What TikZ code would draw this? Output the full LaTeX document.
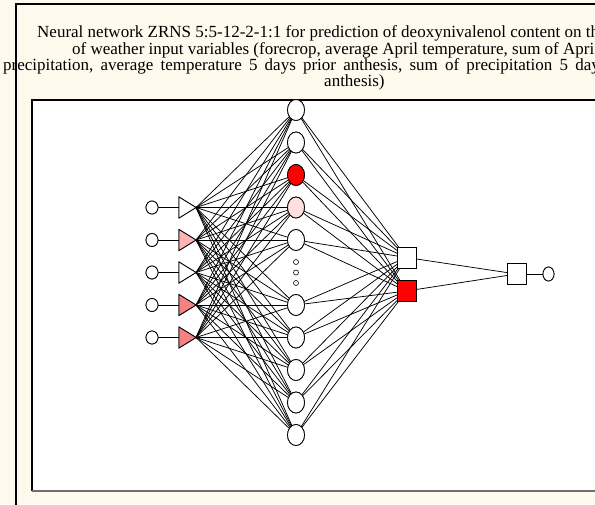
\documentclass[tikz,border=0pt]{standalone}
\usepackage{fontspec}
\setmainfont{Liberation Serif}
\usetikzlibrary{shapes.geometric}
\definecolor{paper}{HTML}{FFF9EE}
\definecolor{pinklight}{HTML}{FFB3B3}
\definecolor{salmon}{HTML}{F58282}
\definecolor{blush}{HTML}{FFE0E0}
\definecolor{boxshade}{HTML}{6E6E6E}
\begin{document}
\begin{tikzpicture}[x=1pt,y=-1pt,
  titletext/.style={anchor=base west,inner sep=0,font=\fontsize{17}{17}\selectfont},
  unit/.style={ellipse,draw,line width=0.8pt,fill=white,inner sep=0,outer sep=0,
    minimum width=17pt,minimum height=21pt},
  inunit/.style={ellipse,draw,line width=0.8pt,fill=white,inner sep=0,outer sep=0,
    minimum width=12pt,minimum height=13pt},
  outunit/.style={ellipse,draw,line width=0.8pt,fill=white,inner sep=0,outer sep=0,
    minimum width=11pt,minimum height=14pt},
  dotunit/.style={circle,draw,line width=0.6pt,fill=white,inner sep=0,outer sep=0,
    minimum size=5pt},
  tri/.style={isosceles triangle,isosceles triangle stretches,draw,line width=0.8pt,
    fill=white,inner sep=0,outer sep=0,minimum height=17pt,minimum width=21pt,anchor=apex},
  sq/.style={rectangle,draw,line width=0.8pt,fill=white,inner sep=0,outer sep=0,
    minimum width=19pt,minimum height=21pt},
  conn/.style={line width=0.75pt,black}]
\useasboundingbox (0,0) rectangle (595,504);
% panel background and frame
\fill[paper] (0,0) rectangle (595,504);
\draw[line width=1.6pt] (16,520) -- (16,4) -- (610,4);
% plot area
\fill[white] (32,100) rectangle (610,491);
\draw[line width=1.4pt] (32,491) -- (32,100) -- (610,100);
\draw[boxshade,line width=1.6pt] (32,491) -- (610,491);
% title
\node[titletext] (t1) at (37,37) {Neural network ZRNS 5:5-12-2-1:1 for prediction of deoxynivalenol content on th};
\node[titletext] (t2) at (72,54) {of weather input variables (forecrop, average April temperature, sum of Apri};
\node[titletext] (t3) at (3,70) {\spaceskip=7.2pt precipitation, average temperature 5 days prior anthesis, sum of precipitation 5 day};
\node[titletext] (t4) at (324,86) {anthesis)};
% input layer
\foreach \i/\y/\c in {1/207.5/white,2/240/pinklight,3/272.5/white,4/305/salmon,5/337.5/salmon}{
  \node[inunit] (x\i) at (152,\y) {};
  \node[tri,fill=\c] (t\i) at (196,\y) {};
}
% first hidden layer
\foreach \j/\y/\c in {1/110/white,2/142.5/white,3/175/red,4/207.5/blush,5/240/white,
                      6/305/white,7/337.5/white,8/370/white,9/402.5/white,10/435/white}{
  \node[unit,fill=\c] (h\j) at (296,\y) {};
}
\node[dotunit] (d1) at (296,262) {};
\node[dotunit] (d2) at (296,272.5) {};
\node[dotunit] (d3) at (296,283) {};
% second hidden layer and output
\node[sq] (s1) at (406.5,257.5) {};
\node[sq,fill=red] (s2) at (406.5,291) {};
\node[sq] (o1) at (516.5,274) {};
\node[outunit] (y1) at (548.5,274) {};
% connections
\foreach \i in {1,...,5}{
  \draw[conn] (x\i) -- (t\i.west);
  \foreach \j in {1,...,10}{\draw[conn] (t\i.apex) -- (h\j);}
}
\foreach \j in {1,...,10}{
  \draw[conn] (h\j) -- (s1);
  \draw[conn] (h\j) -- (s2);
}
\draw[conn] (s1) -- (o1);
\draw[conn] (s2) -- (o1);
\draw[conn] (o1) -- (y1);
% units drawn again above the connections
\foreach \i/\y/\c in {1/207.5/white,2/240/pinklight,3/272.5/white,4/305/salmon,5/337.5/salmon}{
  \node[inunit] at (152,\y) {};
  \node[tri,fill=\c] at (196,\y) {};
}
\foreach \j/\y/\c in {1/110/white,2/142.5/white,3/175/red,4/207.5/blush,5/240/white,
                      6/305/white,7/337.5/white,8/370/white,9/402.5/white,10/435/white}{
  \node[unit,fill=\c] at (296,\y) {};
}
\node[sq] at (406.5,257.5) {};
\node[sq,fill=red] at (406.5,291) {};
\node[sq] at (516.5,274) {};
\node[outunit] at (548.5,274) {};
\end{tikzpicture}
\end{document}
